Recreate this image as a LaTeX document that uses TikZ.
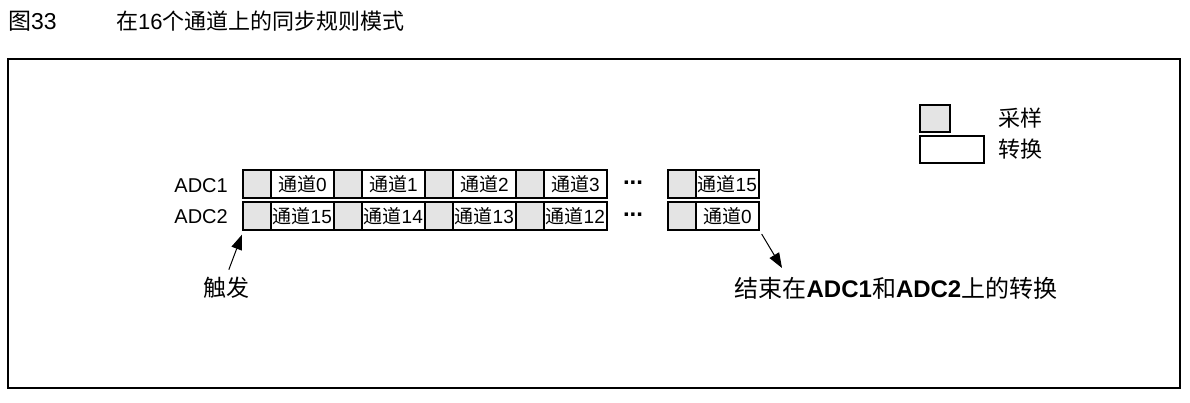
\documentclass[tikz,border=0pt]{standalone}
\usepackage{fontspec}
\setmainfont{Liberation Sans}
\newfontfamily\cjk{Noto Sans CJK SC}
\usetikzlibrary{positioning,arrows.meta}
\definecolor{sampfill}{HTML}{E4E4E4}
\definecolor{ink}{HTML}{000000}

\begin{document}
\begin{tikzpicture}[x=1pt, y=-1pt,
  cell/.style={draw=ink, line width=1.6pt, minimum height=28pt, inner sep=0pt,
    anchor=north west, text=ink, font=\fontsize{19}{19}\selectfont},
  sampcell/.style={cell, fill=sampfill, minimum width=28pt},
  convcell/.style={cell, fill=white, minimum width=63pt},
  rowlabel/.style={inner sep=0pt, text=ink, font=\fontsize{20}{20}\selectfont},
  note/.style={inner sep=0pt, text=ink, font=\fontsize{24}{24}\selectfont},
  pointer/.style={draw=ink, line width=1pt, -{Triangle[length=15pt,width=11pt]}}
]
  \useasboundingbox (0,0) rectangle (1190,402);

  % title
  \node[note, anchor=west, font=\fontsize{23}{23}\selectfont] (fig-no) at (8,21) {{\cjk 图}33};
  \node[note, anchor=west, font=\fontsize{22}{22}\selectfont] (fig-title) at (116,21)
    {{\cjk 在}16{\cjk 个通道上的同步规则模式}};

  \draw[draw=ink, line width=1.6pt] (8,59) rectangle (1180,388);

  % key
  \node[sampcell, minimum width=30pt, minimum height=27pt] (key-samp) at (919,104) {};
  \node[convcell, minimum width=64pt, minimum height=27pt] (key-conv) at (919,135) {};
  \node[note, font=\fontsize{22}{22}\selectfont, right=14pt of key-conv] (key-conv-txt) {\cjk 转换};
  \node[note, font=\fontsize{22}{22}\selectfont, anchor=west] (key-samp-txt)
    at (key-conv-txt.west |- key-samp) {\cjk 采样};

  % channels of both converters
  \foreach \xx/\ta/\tb [count=\i] in {242/0/15, 333/1/14, 424/2/13, 515/3/12, 667/15/0} {
    \node[sampcell] (samp-1-\i) at (\xx,169) {};
    \node[convcell] (conv-1-\i) at (\xx+28,169) {{\cjk 通道}\ta};
    \node[sampcell] (samp-2-\i) at (\xx,201) {};
    \node[convcell] (conv-2-\i) at (\xx+28,201) {{\cjk 通道}\tb};
  }
  \node[rowlabel, left=14pt of samp-1-1, yshift=-2pt] (adc-1) {ADC1};
  \node[rowlabel, left=14pt of samp-2-1, yshift=-1pt] (adc-2) {ADC2};
  \node[rowlabel, font=\fontsize{24}{24}\selectfont] (dots-1) at (633,183) {\textbf{...}};
  \node[rowlabel, font=\fontsize{24}{24}\selectfont] (dots-2) at (633,215) {\textbf{...}};

  % trigger and end of conversion
  \node[note, font=\fontsize{23}{23}\selectfont] (trig) at (226,288) {\cjk 触发};
  \node[note] (done) at (896,288)
    {{\cjk 结束在}\textbf{ADC1}{\cjk 和}\textbf{ADC2}{\cjk 上的转换}};
  \coordinate (done-tip) at (782,268);
  \draw[pointer, shorten <=8pt] (trig.north) -- ([yshift=-4pt]samp-2-1.south west);
  \draw[pointer, shorten <=4pt] (conv-2-5.south east) -- (done-tip);
\end{tikzpicture}
\end{document}
